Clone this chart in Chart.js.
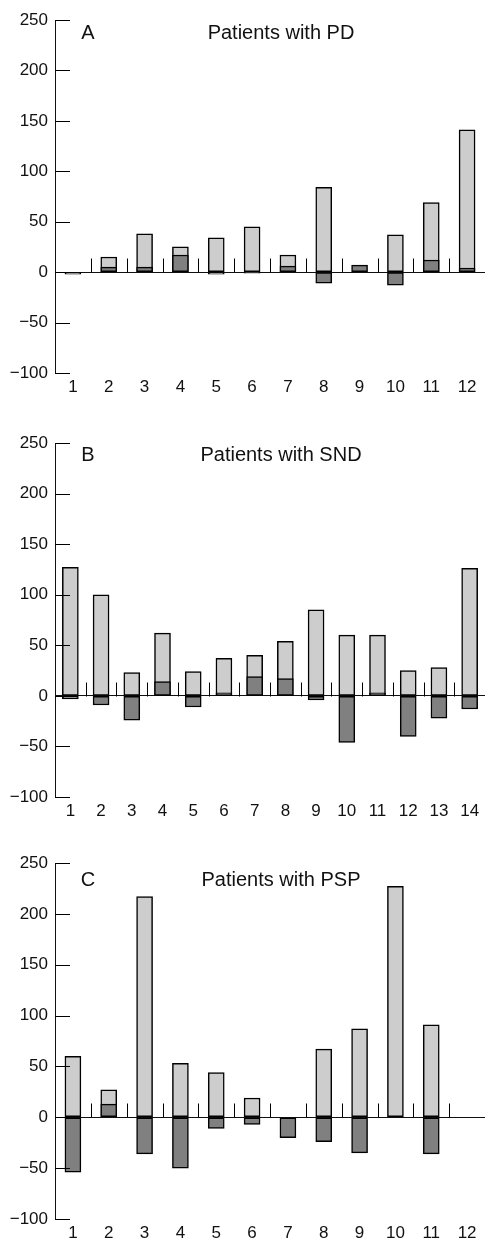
<!DOCTYPE html>
<html>
<head>
<meta charset="utf-8">
<script src="https://cdn.jsdelivr.net/npm/chart.js@4/dist/chart.umd.min.js"></script>
<style>
  html, body { margin: 0; padding: 0; background: #fff; overflow: hidden; }
  body { width: 485px; height: 1238px; position: relative; }
  .panel { position: absolute; left: 0; width: 485px; }
</style>
</head>
<body>
<div class="panel" id="wrapA" style="top:0px;height:398px"><canvas id="chartA"></canvas></div>
<div class="panel" id="wrapB" style="top:423px;height:399px"><canvas id="chartB"></canvas></div>
<div class="panel" id="wrapC" style="top:843px;height:395px"><canvas id="chartC"></canvas></div>
<script>
// Données (clair = barre grise claire, fonce = barre grise foncée)
const catsA = ['1','2','3','4','5','6','7','8','9','10','11','12'];
const clairA = [null, 15, 38, 25, 34, 45, 17, 84, null, 37, 69, 141];
const foncA  = [-2, 5, 5, 17, -2, -1, 6, -11, 7, -13, 12, 4];

const catsB = ['1','2','3','4','5','6','7','8','9','10','11','12','13','14'];
const clairB = [127, 100, 23, 62, 24, 37, 40, 54, 85, 60, 60, 25, 28, 126];
const foncB  = [-3, -9, -24, 14, -11, 3, 19, 17, -4, -46, 3, -40, -22, -13];

const catsC = ['1','2','3','4','5','6','7','8','9','10','11','12'];
const clairC = [60, 27, 217, 53, 44, 19, null, 67, 87, 227, 91, null];
const foncC  = [-54, 13, -36, -50, -11, -7, -20, -24, -35, null, -36, null];

const yTicks = [-100, -50, 0, 50, 100, 150, 200, 250];

const FONT = '"Liberation Sans", Arial, sans-serif';

// Petits traits : graduations vers l'intérieur, séparateurs, lettre et titre
const decor = {
  id: 'decor',
  afterDatasetsDraw(chart, args, opts) {
    const { ctx, chartArea, scales: { x, y } } = chart;
    ctx.save();
    ctx.strokeStyle = '#000';
    ctx.lineWidth = 1;
    ctx.beginPath();
    y.ticks.forEach(t => {
      const py = Math.round(y.getPixelForValue(t.value)) + 0.5;
      ctx.moveTo(chartArea.left, py);
      ctx.lineTo(chartArea.left + 15, py);
    });
    const y0 = Math.round(y.getPixelForValue(0)) + 0.5;
    for (let i = 0; i < x.ticks.length - 1; i++) {
      const px = Math.round((x.getPixelForValue(i) + x.getPixelForValue(i + 1)) / 2) + 0.5;
      ctx.moveTo(px, y0);
      ctx.lineTo(px, y0 - 14);
    }
    ctx.stroke();

    ctx.fillStyle = '#111';
    ctx.font = '20px ' + FONT;
    ctx.textAlign = 'center';
    ctx.textBaseline = 'middle';
    ctx.fillText(opts.lettre, chartArea.left + 33, chartArea.top + opts.dy);
    ctx.fillText(opts.titre, chartArea.left + 226, chartArea.top + opts.dy);
    ctx.restore();
  }
};

function creerGraphique(id, cats, clair, fonce, lettre, titre, dy, basX) {
  const ctx = document.getElementById(id).getContext('2d');
  return new Chart(ctx, {
    type: 'bar',
    data: {
      labels: cats,
      datasets: [
        {
          data: fonce,
          backgroundColor: '#808080',
          borderColor: '#000',
          borderWidth: 1.5,
          borderSkipped: false,
          grouped: false,
          barThickness: 16,
          order: 0
        },
        {
          data: clair,
          backgroundColor: '#cdcdcd',
          borderColor: '#000',
          borderWidth: 1.5,
          borderSkipped: false,
          grouped: false,
          barThickness: 16,
          order: 1
        }
      ]
    },
    options: {
      responsive: true,
      maintainAspectRatio: false,
      animation: false,
      layout: { padding: { top: 20, right: 0, left: 0, bottom: 0 } },
      plugins: {
        legend: { display: false },
        tooltip: { enabled: false },
        decor: { lettre: lettre, titre: titre, dy: dy }
      },
      scales: {
        x: {
          type: 'category',
          offset: true,
          grid: { display: false, drawTicks: false },
          border: { display: false },
          ticks: { color: '#111', font: { family: FONT, size: 17 }, padding: 4, maxRotation: 0, autoSkip: false },
          afterFit: (scale) => { scale.height = basX; }
        },
        y: {
          min: -100,
          max: 250,
          afterBuildTicks: (scale) => { scale.ticks = yTicks.map(v => ({ value: v })); },
          grid: {
            drawTicks: false,
            color: (c) => (c.tick && c.tick.value === 0) ? '#111' : 'rgba(0,0,0,0)',
            lineWidth: 1
          },
          border: { display: true, color: '#111', width: 1 },
          ticks: {
            color: '#111',
            font: { family: FONT, size: 17 },
            padding: 7,
            callback: (v) => v < 0 ? '\u2212' + Math.abs(v) : String(v)
          },
          afterFit: (scale) => { scale.width = 55; }
        }
      }
    },
    plugins: [decor]
  });
}

creerGraphique('chartA', catsA, clairA, foncA, 'A', 'Patients with PD', 13, 25);
creerGraphique('chartB', catsB, clairB, foncB, 'B', 'Patients with SND', 12, 25);
creerGraphique('chartC', catsC, clairC, foncC, 'C', 'Patients with PSP', 17, 19);
</script>
</body>
</html>
